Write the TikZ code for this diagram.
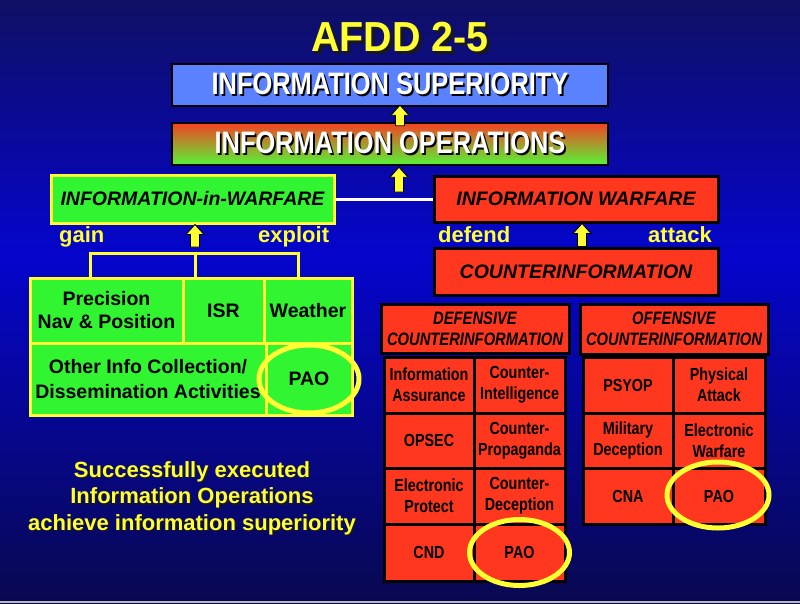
\documentclass[tikz,border=0pt]{standalone}
\usepackage{fontspec}
\setmainfont{Liberation Sans}
\newfontfamily\narrowf[FakeStretch=0.82]{Liberation Sans}
\newfontfamily\titlef[FakeStretch=0.94]{Liberation Sans}
\usetikzlibrary{calc,shapes.geometric}
\definecolor{redc}{RGB}{255,55,30}
\definecolor{greenc}{RGB}{50,245,50}
\definecolor{bluec}{RGB}{90,130,255}
\definecolor{yelc}{RGB}{255,255,51}
\definecolor{iotop}{RGB}{245,65,35}
\definecolor{iobot}{RGB}{85,245,55}
\definecolor{bgtop}{RGB}{15,15,100}
\definecolor{bgmid}{RGB}{5,5,205}
\definecolor{bgbot}{RGB}{8,8,80}
\definecolor{shadc}{RGB}{25,25,25}
\newcommand\shad[3][1.8pt]{\leavevmode\rlap{\kern#1\raisebox{-#1}{\color{#2}#3}}#3}
\newcommand\yarr[2]{%
  \filldraw[fill=yelc,draw=black,line width=0.8pt] let \p1=(#1),\p2=(#2) in
  (\x2-4.5pt,\y1) -- (\x2-4.5pt,\y2-10pt) -- (\x2-9pt,\y2-10pt) -- (\x2,\y2)
  -- (\x2+9pt,\y2-10pt) -- (\x2+4.5pt,\y2-10pt) -- (\x2+4.5pt,\y1) -- cycle;}
\tikzset{
  hbox/.style={draw=black, line width=2.5pt, text=white, inner sep=0pt,
    font=\narrowf\bfseries\fontsize{31}{36}\selectfont},
  rbox/.style={draw=black, line width=3pt, fill=redc, text=black, inner sep=0pt,
    font=\bfseries\itshape\fontsize{19.5}{23}\selectfont},
  hdbox/.style={draw=black, line width=3pt, fill=redc, text=black, inner sep=0pt, align=center,
    font=\narrowf\bfseries\itshape\fontsize{18}{21}\selectfont},
  gbox/.style={draw=yelc, line width=3pt, fill=greenc, text=black, inner sep=0pt,
    font=\bfseries\itshape\fontsize{19.5}{23}\selectfont},
  gcell/.style={draw=yelc, line width=3pt, fill=greenc, text=black, inner sep=0pt, align=center,
    font=\bfseries\fontsize{19.5}{23}\selectfont},
  rcell/.style={draw=black, line width=3pt, fill=redc, text=black, inner sep=0pt, align=center,
    font=\narrowf\bfseries\fontsize{17.5}{21}\selectfont},
  lbl/.style={text=yelc, inner sep=0pt, anchor=base west, font=\bfseries\fontsize{22}{26}\selectfont},
  note/.style={text=yelc, inner sep=0pt, anchor=base, font=\bfseries\fontsize{22}{26}\selectfont},
  ring/.style={draw=yelc, line width=5pt},
  brk/.style={draw=yelc, line width=3pt}
}
\begin{document}
\begin{tikzpicture}[x=1pt,y=-1pt]
\useasboundingbox (0,0) rectangle (800,603);
\shade[top color=bgtop, bottom color=bgmid] (0,0) rectangle (800,255.5);
\shade[top color=bgmid, bottom color=bgbot] (0,255) rectangle (800,603);
\fill[gray!55] (0,601) rectangle (800,603);

% title
\node[text=yelc, inner sep=0pt, anchor=base, font=\titlef\bfseries\fontsize{42}{48}\selectfont] (title) at (400,51)
  {\shad[3pt]{shadc}{AFDD 2-5}};

% top boxes
\node[hbox, fill=bluec, minimum width=436, minimum height=42] (is) at (390,85)
  {\shad{black}{INFORMATION SUPERIORITY}};
\node[hbox, top color=iotop, bottom color=iobot, minimum width=436, minimum height=42] (io) at (390,144)
  {\shad{black}{INFORMATION OPERATIONS}};

% second level
\node[gbox, minimum width=283, minimum height=48] (iiw) at (192.5,199) {INFORMATION-in-WARFARE};
\node[rbox, minimum width=284, minimum height=46] (iw) at (576,199) {INFORMATION WARFARE};
\node[rbox, minimum width=284, minimum height=47] (ci) at (576,271.5) {COUNTERINFORMATION};
\draw[white, line width=3pt] (iiw.east) -- (iw.west);

% arrows
\yarr{$(io.north)+(10,4)$}{$(is.south)+(10,-2)$}
\coordinate (a2) at (399,192);
\yarr{a2}{$(io.south)+(9,1)$}
\coordinate (a3) at (195,247);
\yarr{a3}{$(iiw.south)+(2.5,0)$}
\yarr{$(ci.north)+(6,0)$}{$(iw.south)+(6,0)$}

% labels
\node[lbl] (gain) at (59,242) {gain};
\node[lbl] (exploit) at (258,242) {exploit};
\node[lbl] (defend) at (438,242) {defend};
\node[lbl] (attack) at (648,242) {attack};

% left grid
\node[gcell, minimum width=153, minimum height=65] (pn) at (106.5,310.5) {Precision\\Nav \& Position};
\node[gcell, minimum width=81, minimum height=65] (isr) at (223.5,310.5) {ISR};
\node[gcell, minimum width=88, minimum height=65] (wx) at (308,310.5) {Weather};
\node[gcell, minimum width=236, minimum height=72, font=\bfseries\fontsize{19.5}{25}\selectfont] (oic) at (148,379)
  {Other Info Collection/\\Dissemination Activities};
\node[gcell, minimum width=86, minimum height=72] (paoL) at (309,379) {PAO};
\draw[ring] (paoL) ellipse [x radius=50, y radius=34];

% bracket
\coordinate (bl) at (90,253);
\coordinate (bm) at (195,253);
\coordinate (br) at (298,253);
\draw[brk] (bl |- pn.north) -- (bl) -- (br) -- (br |- wx.north);
\draw[brk] (bm) -- (bm |- isr.north);

% defensive
\node[hdbox, minimum width=188, minimum height=49] (def) at (475,328.5) {DEFENSIVE\\COUNTERINFORMATION};
\node[rcell, minimum width=90, minimum height=56] (ia) at (429,385) {Information\\Assurance};
\node[rcell, minimum width=91, minimum height=56] (cint) at (519.5,385) {Counter-\\Intelligence};
\node[rcell, minimum width=90, minimum height=55] (opsec) at (429,440.5) {OPSEC};
\node[rcell, minimum width=91, minimum height=55] (cprop) at (519.5,440.5) {Counter-\\Propaganda};
\node[rcell, minimum width=90, minimum height=56] (ep) at (429,496) {Electronic\\Protect};
\node[rcell, minimum width=91, minimum height=56] (cdec) at (519.5,496) {Counter-\\Deception};
\node[rcell, minimum width=90, minimum height=57] (cnd) at (429,552.5) {CND};
\node[rcell, minimum width=91, minimum height=57] (paoD) at (519.5,552.5) {PAO};
\draw[ring] (paoD) ellipse [x radius=50, y radius=33];

% offensive
\node[hdbox, minimum width=188, minimum height=50] (off) at (674,329) {OFFENSIVE\\COUNTERINFORMATION};
\node[rcell, minimum width=90, minimum height=56] (psyop) at (628,385) {PSYOP};
\node[rcell, minimum width=92, minimum height=56] (pa) at (719,385) {Physical\\Attack};
\node[rcell, minimum width=90, minimum height=55] (md) at (628,440.5) {Military\\Deception};
\node[rcell, minimum width=92, minimum height=55] (ew) at (719,440.5) {Electronic\\Warfare};
\node[rcell, minimum width=90, minimum height=56] (cna) at (628,496) {CNA};
\node[rcell, minimum width=92, minimum height=56] (paoO) at (719,496) {PAO};
\draw[ring] ($(paoO)+(-1,-1)$) ellipse [x radius=51, y radius=33];

% bottom note
\node[note] (n1) at (192,477) {\shad[1.5pt]{shadc}{Successfully executed}};
\node[note] (n2) at (192,503.5) {\shad[1.5pt]{shadc}{Information Operations}};
\node[note] (n3) at (192,530) {\shad[1.5pt]{shadc}{achieve information superiority}};
\end{tikzpicture}
\end{document}
